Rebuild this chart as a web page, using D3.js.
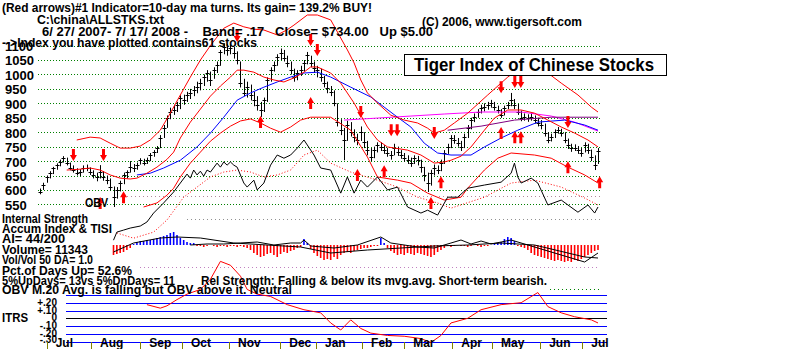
<!DOCTYPE html>
<html lang="en">
<head>
<meta charset="UTF-8">
<title>Tiger Index of Chinese Stocks</title>
<script src="https://cdn.jsdelivr.net/npm/d3@7/dist/d3.min.js"></script>
<style>
  body { margin: 0; background: #fff; }
  svg { display: block; }
  text { font-family: "Liberation Sans", Arial, sans-serif; font-weight: bold; fill: #000; white-space: pre; }
</style>
</head>
<body>
<div id="graph-div"></div>
<script>
// one bar per reading, 6/27/2007 - 7/17/2008
const closes = [593,617,645,658,676,686,697,710,693,676,669,658,662,676,676,662,652,645,662,645,634,610,575,600,624,652,662,679,676,686,703,693,703,721,731,745,780,814,849,870,877,894,
  918,911,929,936,946,956,970,991,1005,981,1016,1033,1078,1095,1085,1092,1074,1050,970,936,956,929,911,894,877,911,981,1016,1033,1060,1074,1057,1040,1016,991,1005,1016,1040,1067,1040,1022,1016,991,
  970,953,939,901,835,807,773,825,800,783,773,800,766,738,714,738,755,749,738,728,721,745,731,721,710,703,693,710,703,679,652,624,658,676,669,693,728,749,780,773,762,749,
  783,814,842,853,870,884,887,894,901,887,877,860,884,894,911,894,870,849,853,849,853,842,832,825,797,773,783,800,807,797,773,755,745,745,738,728,755,738,714,686,734];
const highs = [605,625,650,665,680,692,705,717,712,695,685,675,672,685,688,678,668,660,686,665,650,640,612,610,632,660,668,700,690,695,710,708,712,728,738,752,790,825,858,885,895,905,
  928,930,940,950,960,975,985,1000,1015,1010,1025,1045,1085,1108,1105,1105,1095,1080,1045,985,975,965,940,925,905,920,990,1025,1045,1070,1090,1085,1065,1045,1020,1015,1030,1050,1078,1065,1045,1030,1020,
  995,975,960,945,900,845,815,840,835,810,795,820,800,770,745,750,765,765,755,745,735,760,750,738,728,720,712,720,718,705,680,660,670,688,685,705,738,760,790,790,780,770,
  795,825,850,865,880,895,900,905,912,905,892,880,892,905,936,915,898,875,865,862,866,858,850,842,830,800,795,810,818,812,800,778,760,758,752,745,765,760,740,720,745];
const lows = [585,600,625,640,655,670,682,695,685,668,660,650,648,660,665,652,640,630,640,632,620,598,541,570,595,620,640,660,662,670,688,685,690,700,715,728,745,780,815,845,860,870,
  880,895,905,915,925,935,945,960,975,960,985,1005,1030,1070,1065,1070,1055,1035,955,925,920,910,890,875,853,870,905,975,1010,1030,1050,1045,1025,1000,975,980,995,1010,1035,1025,1005,990,975,
  955,935,925,890,820,790,703,770,785,765,755,770,745,720,700,710,730,735,725,715,705,720,718,708,698,690,680,690,685,660,630,593,615,650,655,665,690,725,745,760,750,735,
  745,780,810,835,850,865,872,878,885,875,865,850,858,880,890,880,860,838,840,836,840,830,820,810,785,762,768,780,795,785,762,742,732,735,725,715,730,725,700,669,690];

const priceTicks = [1100,1050,1000,950,900,850,800,750,700,650,600,550];

// [bar index, value]
const upperBand = [[11,773],[15,783],[18,780],[21,762],[24,745],[27,745],[30,752],[33,773],[36,807],[39,866],[42,929],[45,991],[48,1050],[51,1100],[53,1130],[55,1160],[58,1178],[61,1165],[64,1157],[67,1154],[71,1137],[74,1155],[76,1171],[80,1206],[83,1206],[87,1189],[92,1085],[94,1040],[96,981],[98,936],[101,901],[105,859],[109,842],[113,832],[116,814],[118,797],[121,807],[124,832],[126,849],[128,866],[134,929],[140,991],[142,1008],[147,1030],[152,1005],[156,970],[161,929],[165,887],[167,870]];
const midBand = [[8,669],[12,672],[15,676],[18,669],[21,652],[24,641],[27,638],[29,641],[32,658],[35,679],[38,706],[40,731],[42,780],[45,835],[48,880],[51,925],[54,960],[57,991],[59,1015],[61,1015],[64,1008],[67,991],[70,981],[73,974],[76,988],[79,1008],[81,1026],[83,1026],[87,1005],[90,970],[94,901],[98,818],[101,773],[104,749],[110,738],[114,721],[118,693],[121,697],[123,703],[126,717],[129,749],[133,807],[136,849],[140,877],[144,877],[148,866],[152,842],[156,818],[160,797],[164,773],[167,749]];
const lowerBand = [[31,541],[35,555],[38,582],[40,606],[42,645],[45,693],[48,731],[51,769],[54,797],[57,821],[60,839],[63,846],[66,832],[69,814],[72,800],[75,818],[78,842],[81,852],[84,852],[87,852],[93,807],[98,714],[101,645],[107,634],[111,624],[116,589],[121,565],[126,575],[128,606],[133,669],[137,710],[141,728],[148,721],[153,710],[158,679],[163,652],[167,624]];
const ma50 = [[29,652],[33,658],[37,676],[42,703],[47,749],[51,797],[55,852],[59,911],[63,936],[67,956],[71,974],[75,991],[79,1005],[83,1008],[87,991],[93,956],[99,922],[103,887],[107,852],[111,818],[115,762],[119,728],[123,721],[129,721],[133,749],[138,780],[143,807],[149,835],[157,842],[163,825],[167,807]];
const ma200 = [[91,842],[101,849],[111,856],[121,863],[132,870],[144,870],[153,856],[160,835],[167,804]];
const ma100 = [[122,807],[132,821],[142,842],[153,852],[167,852]];
const obv = [[22,426],[23,454],[25,461],[27,468],[30,475],[32,489],[34,520],[37,555],[40,593],[42,624],[44,655],[45,641],[46,669],[47,652],[48,665],[49,648],[50,669],[51,662],[53,693],[54,679],[55,697],[56,686],[57,697],[58,686],[59,679],[61,624],[62,610],[64,634],[65,600],[67,624],[69,686],[71,721],[73,710],[75,721],[77,745],[79,773],[82,721],[84,676],[87,669],[90,589],[92,645],[94,589],[96,634],[98,610],[101,645],[104,600],[107,610],[110,541],[114,520],[116,530],[119,513],[122,575],[125,575],[128,606],[133,617],[138,627],[141,658],[142,693],[143,645],[144,624],[147,641],[149,624],[152,548],[156,565],[158,548],[161,523],[164,548],[166,520],[167,541]];
const obvMa = [[23,451],[28,433],[34,454],[38,496],[43,575],[47,610],[51,645],[55,662],[59,669],[63,662],[67,645],[71,652],[75,669],[79,721],[83,738],[87,693],[93,662],[101,634],[107,610],[113,575],[119,555],[123,537],[133,575],[141,624],[148,634],[156,610],[163,572],[167,548]];

// signal arrows
const sellIdx = [10,19,59,81,83,96,106,118,138,143,158];
const sellPrice = [721,721,1133,1119,1085,870,807,797,956,974,835];
const sellDouble = [0,0,0,0,0,0,1,0,0,1,0];
const buyIdx = [18,25,66,81,95,103,117,120,138,143,158,167.5];
const buyPrice = [555,575,835,901,652,665,555,627,797,783,679,627];
const buyDouble = [0,0,0,0,0,0,0,0,0,1,0,0];

// accumulation index, from bar 22
const aiStart = 22;
const aiValues = [-10,-9,-8,-7,-5,-3,1,
  3,4,4,5,5,6,7,8,9,10,12,13,10,7,5,3,2,2,
  -1,-1,-2,-1,0,-1,-2,-1,-1,-2,-1,-1,-2,-1,
  -2,-3,-5,-8,-10,-12,-11,-9,-8,-10,-12,-9,-7,-8,-6,-5,-3,-2,
  6,2,
  -4,-8,-11,-13,-15,-14,-15,-12,-14,-10,-8,-7,-8,-6,-5,-4,-3,-3,
  -2,-1,-1,7,2,
  -3,-6,-8,-10,-9,-10,-8,-9,-10,-8,-9,-10,-11,-12,-10,-7,-5,-3,
  -1,-2,-1,0,-1,-1,-2,-1,0,-1,-2,-1,-1,0,1,2,
  3,6,8,7,4,
  -1,-2,-3,-5,-8,-10,-11,-12,-13,-14,-15,-16,-15,-16,-17,-16,-17,-15,-16,-14,-12,-10,-8,-6,-5];
const tisi = [[22,-7],[28,2],[36,7],[41,8],[48,7],[58,2],[68,0],[78,-2],[87,-8],[98,-5],[108,-3],[118,-1],[128,0],[138,2],[148,0],[158,-8],[163,-12],[167,-13]];
const tisiRaw = [[45,0],[50,1],[55,1],[60,2],[65,3],[70,0],[75,2],[78,2],[79,5],[81,-1],[88,-3],[95,0],[102,8],[105,2],[113,-2],[118,-3],[123,2],[126,5],[129,1],[132,4],[135,1],[138,3],[141,5],[148,-2],[158,-12],[163,-17],[167,-8]];

// relative strength
const itrs = [[32,0.175],[36,0.13],[38,0.16],[41,0.24],[44,0.31],[48,0.37],[51,0.50],[54,0.73],[57,0.68],[60,0.54],[62,0.37],[65,0.31],[69,0.28],[74,0.175],[79,0.11],[84,0.07],[87,-0.06],[90,-0.15],[93,-0.02],[96,-0.13],[99,-0.19],[104,-0.22],[109,-0.23],[114,-0.26],[117,-0.31],[120,-0.22],[123,-0.06],[128,0.00],[132,0.11],[138,0.175],[144,0.20],[149,0.33],[152,0.15],[156,0.07],[160,0.02],[165,-0.02],[167,-0.06]];
const itrsLevels = [0.3,0.2,0.1,0,-0.1,-0.2,-0.3];
const itrsLabelValues = [0.2,0.1,0,-0.1,-0.2,-0.3];
const itrsLabels = ["+.20","+.10","0","-.10","-.20","-.30"];

const monthLabels = ["Jul","Aug","Sep","Oct","Nov","Dec","Jan","Feb","Mar","Apr","May","Jun","Jul"];
const monthTickIdx = [2,15.3,30,42.5,56.6,71.9,82.6,96.4,109,123.4,135.3,149.7,162.3];

const w = 800, h = 349;
const svg = d3.select("#graph-div").append("svg").attr("width", w).attr("height", h);

const xScale = d3.scaleLinear().domain([0, closes.length - 1]).range([40, 598]);
const yPrice = d3.scaleLinear().domain([550, 1100]).range([204.4, 45.6]);
const yAI = d3.scaleLinear().domain([-20, 20]).range([265, 225]);
const yRS = d3.scaleLinear().domain([-0.3, 0.3]).range([341.7, 294.9]);

//grid + price labels
const gy = svg.append("g")
  .attr("transform", "translate(38,0)")
  .call(d3.axisLeft(yPrice).tickValues(priceTicks).tickSize(-562).tickFormat(d3.format("d")));
gy.attr("font-family", null).attr("font-size", 13);
gy.select(".domain").remove();
gy.selectAll(".tick line").attr("stroke", "#008000").attr("stroke-dasharray", "1,2").attr("shape-rendering", "crispEdges");
gy.selectAll(".tick text").attr("x", -33).attr("dy", "0.38em").attr("text-anchor", "start");

// other dotted guide lines
const guides = [[127, 600, 196, "#b08a9a"], [187, 600, 219.5, "#909090"], [140, 600, 267.5, "#c080c0"], [550, 600, 289.5, "#008000"]];
guides.forEach(g => {
  svg.append("line").attr("x1", g[0]).attr("x2", g[1]).attr("y1", g[2]).attr("y2", g[2])
    .attr("stroke", g[3]).attr("stroke-dasharray", "1,3").attr("shape-rendering", "crispEdges");
});

//bars
svg.append("g").selectAll("path")
  .data(closes)
  .enter()
  .append("path")
  .attr("d", (d, i) => {
    const x = Math.round(xScale(i)) + 0.5;
    const yc = Math.round(yPrice(d)) + 0.5;
    return "M" + x + "," + yPrice(highs[i]) + "V" + yPrice(lows[i]) + "M" + (x - 2) + "," + yc + "H" + (x + 2);
  })
  .attr("stroke", "#000")
  .attr("stroke-width", 1)
  .attr("fill", "none");

//lines
const priceLine = d3.line().x(d => xScale(d[0])).y(d => yPrice(d[1]));
function drawLine(data, color, dash, gen) {
  svg.append("path").datum(data)
    .attr("d", gen || priceLine)
    .attr("fill", "none")
    .attr("stroke", color)
    .attr("stroke-width", 1)
    .attr("stroke-dasharray", dash || null);
}
drawLine(ma200, "#ff00ff");
drawLine(ma100, "#800080");
drawLine(ma50, "#0000ff");
drawLine(upperBand, "#ff0000");
drawLine(midBand, "#ff0000");
drawLine(lowerBand, "#ff0000");
drawLine(obvMa, "#ff0000", "1,2");
drawLine(obv, "#000000");

//arrows
function arrowPath(cx, cy, dir) {
  const s = dir; // -1 = up, 1 = down
  return "M" + (cx - 1.5) + "," + (cy - 6 * s) + "L" + (cx + 1.5) + "," + (cy - 6 * s) +
    "L" + (cx + 1.5) + "," + cy + "L" + (cx + 3.5) + "," + cy + "L" + cx + "," + (cy + 6 * s) +
    "L" + (cx - 3.5) + "," + cy + "L" + (cx - 1.5) + "," + cy + "Z";
}
const arrows = [];
sellIdx.forEach((d, i) => arrows.push({ i: d, v: sellPrice[i], dir: 1, dbl: sellDouble[i] }));
buyIdx.forEach((d, i) => arrows.push({ i: d, v: buyPrice[i], dir: -1, dbl: buyDouble[i] }));
svg.append("g").selectAll("path")
  .data(arrows)
  .enter()
  .append("path")
  .attr("d", d => {
    const cx = xScale(d.i), cy = yPrice(d.v);
    if (d.dbl) return arrowPath(cx - 3, cy, d.dir) + arrowPath(cx + 3, cy, d.dir);
    return arrowPath(cx, cy, d.dir);
  })
  .attr("fill", "#ff0000");

//accum index
svg.append("g").selectAll("line")
  .data(aiValues)
  .enter()
  .append("line")
  .attr("x1", (d, i) => xScale(aiStart + i))
  .attr("x2", (d, i) => xScale(aiStart + i))
  .attr("y1", yAI(0))
  .attr("y2", d => yAI(d))
  .attr("stroke", d => d >= 0 ? "#0000ff" : "#ff0000")
  .attr("stroke-width", 1.6);
const aiLine = d3.line().x(d => xScale(d[0])).y(d => yAI(d[1]));
drawLine(tisiRaw, "#000000", null, aiLine);
drawLine(tisi, "#000000", null, aiLine);

//ITRS
svg.append("g").selectAll("line")
  .data(itrsLevels)
  .enter()
  .append("line")
  .attr("x1", 66).attr("x2", 607)
  .attr("y1", d => Math.round(yRS(d)) + 0.5)
  .attr("y2", d => Math.round(yRS(d)) + 0.5)
  .attr("stroke", d => d === 0 ? "#000" : "#0000ff");
drawLine(itrs, "#ff0000", null, d3.line().x(d => xScale(d[0])).y(d => yRS(d[1])));
svg.append("g").selectAll("text")
  .data(itrsLabels)
  .enter()
  .append("text")
  .attr("x", 57)
  .attr("y", (d, i) => Math.min(yRS(itrsLabelValues[i]) + 3, 343))
  .attr("text-anchor", "end")
  .attr("font-size", 10)
  .text(d => d);

//months
svg.append("g").selectAll("line")
  .data(monthTickIdx)
  .enter()
  .append("line")
  .attr("x1", d => Math.round(xScale(d)) + 0.5)
  .attr("x2", d => Math.round(xScale(d)) + 0.5)
  .attr("y1", 342).attr("y2", 349)
  .attr("stroke", "#808000");
svg.append("g").selectAll("text")
  .data(monthLabels)
  .enter()
  .append("text")
  .attr("x", (d, i) => xScale(monthTickIdx[i]) + 9)
  .attr("y", 347)
  .attr("font-size", 12)
  .text(d => d);

//title box
svg.append("rect").attr("x", 404.5).attr("y", 54.5).attr("width", 262).attr("height", 21)
  .attr("fill", "#fff").attr("stroke", "#000");
svg.append("text").attr("x", 414).attr("y", 71).attr("font-size", 18).attr("font-weight", "normal")
  .attr("textLength", 240).attr("lengthAdjust", "spacingAndGlyphs")
  .text("Tiger Index of Chinese Stocks");

//texts
const texts = [
  ["(Red arrows)#1 Indicator=10-day ma turns. Its gain= 139.2% BUY!", 2, 12, 370],
  ["C:\\china\\ALLSTKS.txt", 37, 24, 127],
  ["6/ 27/ 2007- 7/ 17/ 2008 -    Band= .17   Close= $734.00   Up $5.00", 42, 36, 391],
  ["(C) 2006, www.tigersoft.com", 422, 26, 160],
  ["-->Index you have plotted contains61 stocks", 2, 47, 255],
  ["OBV", 85, 207, 23],
  ["Internal Strength", 2, 223, 86],
  ["Accum Index & TISI", 2, 233, 110],
  ["AI= 44/200", 2, 243, 63],
  ["Volume= 11343", 2, 254, 86],
  ["Vol/Vol 50 DA= 1.0", 2, 264, 91],
  ["Pct.of Days Up= 52.6%", 2, 275, 130],
  ["5%UpDays= 13vs 5%DnDays= 11", 2, 285, 173],
  ["Rel Strength: Falling & below its mvg.avg. Short-term bearish.", 201, 285, 346],
  ["OBV M.20 Avg. is falling but OBV above it. Neutral", 2, 294, 290],
  ["ITRS", 2, 322, 26]
];
svg.append("g").selectAll("text")
  .data(texts)
  .enter()
  .append("text")
  .attr("x", d => d[1])
  .attr("y", d => d[2])
  .attr("font-size", 12)
  .attr("textLength", d => d[3])
  .attr("lengthAdjust", "spacingAndGlyphs")
  .text(d => d[0]);
</script>
</body>
</html>
